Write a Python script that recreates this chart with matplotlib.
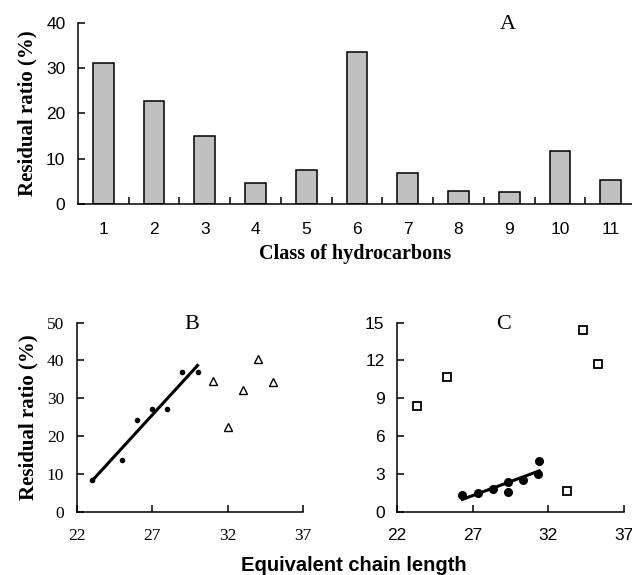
import numpy as np
import matplotlib
matplotlib.use('Agg')
import matplotlib.pyplot as plt
from matplotlib.ticker import FixedLocator

# panel A
classes = list(range(1, 12))
residual_a = [31.2, 22.8, 15.0, 4.7, 7.5, 33.5, 6.8, 2.9, 2.6, 11.7, 5.4]

# panel B
b_fit_x = [23, 25, 26, 27, 28, 29, 30]
b_fit_y = [8.3, 13.7, 24.3, 27.2, 27.2, 37.0, 37.0]
b_other_x = [31, 32, 33, 34, 35]
b_other_y = [34.7, 22.3, 32.2, 40.3, 34.4]

# panel C
c_fit_x = [26.32, 27.38, 28.33, 29.30, 29.36, 30.31, 31.30, 31.39]
c_fit_y = [1.32, 1.46, 1.83, 1.59, 2.38, 2.52, 2.99, 4.02]
c_other_x = [23.34, 25.28, 33.26, 34.26, 35.30]
c_other_y = [8.41, 10.71, 1.67, 14.42, 11.75]

SANS = 'Liberation Sans'
SERIF = 'Liberation Serif'
LW = 1.1
TICK_FS = 12.5

fig = plt.figure(figsize=(6.32, 5.75), dpi=100)


def clean(ax):
    for s in ['top', 'right']:
        ax.spines[s].set_visible(False)
    for s in ['left', 'bottom']:
        ax.spines[s].set_linewidth(LW)


# ---- A
axA = fig.add_axes([0.1234, 0.6452, 0.8766, 0.3153])
axA.bar(classes, residual_a, width=0.41, color='#c0c0c0', edgecolor='black', linewidth=1.1)
axA.set_xlim(0.5, 11.42)
axA.set_ylim(0, 40)
axA.set_yticks([0, 10, 20, 30, 40])
axA.set_xticks(classes)
axA.xaxis.set_minor_locator(FixedLocator([c + 0.5 for c in classes]))
axA.tick_params(axis='x', which='major', length=0, pad=13, labelsize=TICK_FS)
axA.tick_params(axis='x', which='minor', direction='in', length=5, width=LW)
axA.tick_params(axis='y', direction='in', length=5, width=LW, pad=9, labelsize=TICK_FS)
for t in axA.get_xticklabels() + axA.get_yticklabels():
    t.set_fontfamily(SANS)
clean(axA)
axA.set_xlabel('Class of hydrocarbons', fontfamily=SERIF, fontweight='bold', fontsize=14.5, labelpad=5)
axA.set_ylabel('Residual ratio (%)', fontfamily=SERIF, fontweight='bold', fontsize=15, labelpad=6)
axA.text(0.775, 0.99, 'A', transform=axA.transAxes, fontfamily=SERIF, fontsize=16,
         ha='center', va='center')

# ---- B
axB = fig.add_axes([0.1214, 0.1101, 0.3585, 0.3287])
axB.plot(b_fit_x, b_fit_y, 'o', color='black', markersize=3)
axB.plot(b_other_x, b_other_y, '^', markerfacecolor='white', markeredgecolor='black',
         markersize=6, markeredgewidth=1.0)
kb = np.polyfit(b_fit_x, b_fit_y, 1)
xb = np.array([min(b_fit_x), max(b_fit_x)])
axB.plot(xb, np.polyval(kb, xb), color='black', linewidth=2.2)
axB.set_xlim(22, 37)
axB.set_ylim(0, 50)
axB.set_xticks([22, 27, 32, 37])
axB.set_yticks([0, 10, 20, 30, 40, 50])
axB.tick_params(axis='x', direction='in', length=5, width=LW, pad=12, labelsize=TICK_FS)
axB.tick_params(axis='y', direction='in', length=5, width=LW, pad=9, labelsize=TICK_FS)
for t in axB.get_xticklabels() + axB.get_yticklabels():
    t.set_fontfamily(SERIF)
clean(axB)
axB.set_ylabel('Residual ratio (%)', fontfamily=SERIF, fontweight='bold', fontsize=15, labelpad=6)
axB.text(0.51, 0.99, 'B', transform=axB.transAxes, fontfamily=SERIF, fontsize=16,
         ha='center', va='center')

# ---- C
axC = fig.add_axes([0.6282, 0.1101, 0.3592, 0.3287])
axC.plot(c_fit_x, c_fit_y, 'o', color='black', markersize=5.5)
axC.plot(c_other_x, c_other_y, 's', markerfacecolor='white', markeredgecolor='black',
         markersize=5.5, markeredgewidth=1.3)
kc = np.polyfit(c_fit_x, c_fit_y, 1)
xc = np.array([min(c_fit_x), max(c_fit_x)])
axC.plot(xc, np.polyval(kc, xc), color='black', linewidth=2.2)
axC.set_xlim(22, 37)
axC.set_ylim(0, 15)
axC.set_xticks([22, 27, 32, 37])
axC.set_yticks([0, 3, 6, 9, 12, 15])
axC.tick_params(axis='x', direction='in', length=5, width=LW, pad=12, labelsize=TICK_FS)
axC.tick_params(axis='y', direction='in', length=5, width=LW, pad=9, labelsize=TICK_FS)
for t in axC.get_xticklabels() + axC.get_yticklabels():
    t.set_fontfamily(SANS)
clean(axC)
axC.text(0.47, 0.99, 'C', transform=axC.transAxes, fontfamily=SERIF, fontsize=16,
         ha='center', va='center')

fig.text(0.56, 0.017, 'Equivalent chain length', fontfamily=SANS, fontweight='bold',
         fontsize=14.5, ha='center', va='center')

fig.savefig('out.png', dpi=100)
